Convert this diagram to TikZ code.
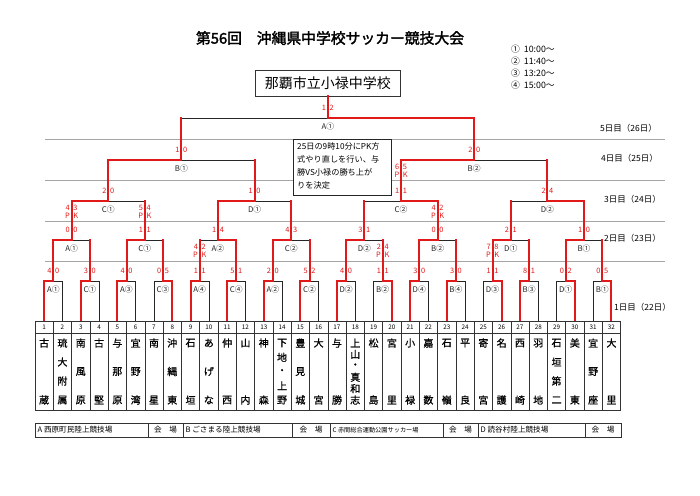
\documentclass[tikz,border=0pt]{standalone}
\usepackage{fontspec}
\setmainfont{Noto Sans CJK JP}
\newfontfamily\titlefont[FakeBold=2]{Noto Sans CJK JP}
\newfontfamily\namefont[FakeBold=0.8]{Noto Sans CJK JP}
\pgfdeclarelayer{back}
\pgfdeclarelayer{bg}
\pgfsetlayers{back,bg,main}
\definecolor{wred}{RGB}{225,25,25}
\definecolor{gline}{RGB}{165,165,165}
\tikzset{
  thinbox/.style={draw=black!85, line width=0.6pt},
  winline/.style={draw=wred, line width=2pt, line cap=rect},
  lab/.style={font=\fontsize{7.8}{8}\selectfont, inner sep=0pt, text=black!85},
  sc/.style={font=\fontsize{7.4}{8}\selectfont, inner sep=0.3pt, text=wred},
  nm/.style={font=\namefont\fontsize{10}{11}\selectfont, inner sep=0pt},
  num/.style={font=\fontsize{6.3}{7}\selectfont, inner sep=0pt},
  day/.style={font=\fontsize{8.5}{9}\selectfont, inner sep=0pt, anchor=west},
  dayline/.style={draw=gline, line width=0.6pt},
  gridline/.style={draw=black!80, line width=0.6pt},
  vt/.style={font=\fontsize{7.6}{8}\selectfont, inner sep=0pt},
  tm/.style={font=\fontsize{8.8}{9}\selectfont, inner sep=0pt, anchor=west},
}
% n, m, winner(0 left/1 right), label, scoreL, scoreR, ychild, ytop, yparent
\newcommand\bmatch[9]{%
  \pgfmathsetmacro\bw{18.3*2^(#1)}%
  \pgfmathsetmacro\bxc{35+\bw*(#2-0.5)}%
  \pgfmathsetmacro\bxl{\bxc-\bw/4}%
  \pgfmathsetmacro\bxr{\bxc+\bw/4}%
  \pgfmathsetmacro\bxw{#3==0 ? \bxl : \bxr}%
  \begin{pgfonlayer}{bg}
    \draw[thinbox] (\bxl,#7) -- (\bxl,#8) -- (\bxr,#8) -- (\bxr,#7);
  \end{pgfonlayer}
  \draw[winline] (\bxw,#7) -- (\bxw,#8) -- (\bxc,#8) -- (\bxc,#9);
  \node[lab] (lb#1-#2) at (\bxc,#8+8.5) {#4};
  \node[sc,anchor=east] (sl#1-#2) at (\bxc-1.3,#8-10) {#5};
  \node[sc,anchor=west] (sr#1-#2) at (\bxc+1.3,#8-10) {#6};
}
% n, m, a, b, yparent
\newcommand\pkmark[5]{%
  \pgfmathsetmacro\bxc{35+18.3*2^(#1)*(#2-0.5)}%
  \node[sc,anchor=east] (pka#1-#2) at (\bxc-1.3,#5+7) {#3};
  \node[sc,anchor=west] (pkb#1-#2) at (\bxc+1.3,#5+7) {#4};
  \node[sc,anchor=east] (pkp#1-#2) at (\bxc-1.3,#5+15) {P};
  \node[sc,anchor=west] (pkk#1-#2) at (\bxc+1.3,#5+15) {K};
}
% column, count, chars
\newcommand\tname[3]{%
  \pgfmathsetmacro\bxt{35+18.3*(#1-0.5)}%
  \foreach \ch [count=\ck] in {#3} {
    \pgfmathsetmacro\byt{343+(\ck-1)*57/(#2-1)}
    \node[nm] (n#1-\ck) at (\bxt,\byt) {\ch};
  }
}
\begin{document}
\begin{tikzpicture}[x=1pt,y=-1pt]
\begin{pgfonlayer}{back}
  \fill[white] (0,0) rectangle (700,495);
  \useasboundingbox (0,0) rectangle (700,495);
  \foreach \yy in {139,180,221,261} \draw[dayline] (45,\yy) -- (665,\yy);
\end{pgfonlayer}

% title and times
\node[inner sep=0pt, font=\titlefont\fontsize{14.8}{16}\selectfont] (title) at (330,38) {第56回　沖縄県中学校サッカー競技大会};
\node[tm] (t1) at (511,49) {①\ \ 10:00～};
\node[tm] (t2) at (511,61) {②\ \ 11:40～};
\node[tm] (t3) at (511,73) {③\ \ 13:20～};
\node[tm] (t4) at (511,85) {④\ \ 15:00～};

% champion
\node[draw=black!80, line width=0.7pt, fill=white, minimum width=145pt, minimum height=26pt, inner sep=0pt, font=\fontsize{14}{15}\selectfont] (champ) at (327.8,83) {那覇市立小禄中学校};

% day labels
\node[day] (d5) at (600,128) {5日目（26日）};
\node[day] (d4) at (601,158) {4日目（25日）};
\node[day] (d3) at (604,199) {3日目（24日）};
\node[day] (d2) at (604,238) {2日目（23日）};
\node[day] (d1) at (614,307) {1日目（22日）};

% note
\node[draw=black!85, line width=0.6pt, fill=white, minimum width=98pt, minimum height=56pt, inner sep=0pt] (note) at (342,167) {};
\node[anchor=north west, align=left, inner sep=0pt, font=\fontsize{8.2}{13}\selectfont] (notetext) at (297,142) {25日の9時10分にPK方\\式やり直しを行い、与\\勝VS小禄の勝ち上が\\りを決定};

% round 1
\bmatch{1}{1}{0}{A①}{4}{0}{321}{281}{240}
\bmatch{1}{2}{0}{C①}{3}{0}{321}{281}{240}
\bmatch{1}{3}{0}{A③}{4}{0}{321}{281}{240}
\bmatch{1}{4}{1}{C③}{0}{5}{321}{281}{240}
\bmatch{1}{5}{0}{A④}{1}{1}{321}{281}{240}
\bmatch{1}{6}{0}{C④}{5}{1}{321}{281}{240}
\bmatch{1}{7}{0}{A②}{2}{0}{321}{281}{240}
\bmatch{1}{8}{0}{C②}{5}{2}{321}{281}{240}
\bmatch{1}{9}{0}{D②}{4}{0}{321}{281}{240}
\bmatch{1}{10}{1}{B②}{1}{1}{321}{281}{240}
\bmatch{1}{11}{0}{D④}{3}{0}{321}{281}{240}
\bmatch{1}{12}{0}{B④}{3}{0}{321}{281}{240}
\bmatch{1}{13}{1}{D③}{1}{1}{321}{281}{240}
\bmatch{1}{14}{0}{B③}{8}{1}{321}{281}{240}
\bmatch{1}{15}{1}{D①}{0}{2}{321}{281}{240}
\bmatch{1}{16}{1}{B①}{0}{5}{321}{281}{240}
\pkmark{1}{5}{4}{2}{240}
\pkmark{1}{10}{2}{4}{240}
\pkmark{1}{13}{7}{8}{240}

% round 2
\bmatch{2}{1}{0}{A①}{0}{0}{281}{240}{201}
\bmatch{2}{2}{0}{C①}{1}{1}{281}{240}{201}
\bmatch{2}{3}{1}{A②}{1}{4}{281}{240}{201}
\bmatch{2}{4}{0}{C②}{4}{3}{281}{240}{201}
\bmatch{2}{5}{0}{D②}{3}{1}{281}{240}{201}
\bmatch{2}{6}{0}{B②}{0}{0}{281}{240}{201}
\bmatch{2}{7}{0}{D①}{2}{1}{281}{240}{201}
\bmatch{2}{8}{0}{B①}{1}{0}{281}{240}{201}
\pkmark{2}{1}{4}{3}{201}
\pkmark{2}{2}{5}{4}{201}
\pkmark{2}{6}{4}{2}{201}

% round 3
\bmatch{3}{1}{0}{C①}{2}{0}{240}{201}{160}
\bmatch{3}{2}{0}{D①}{1}{0}{240}{201}{160}
\bmatch{3}{3}{1}{C②}{1}{1}{240}{201}{160}
\bmatch{3}{4}{1}{D②}{2}{4}{240}{201}{160}
\pkmark{3}{3}{6}{5}{160}

% round 4
\bmatch{4}{1}{0}{B①}{1}{0}{201}{160}{118}
\bmatch{4}{2}{0}{B②}{2}{0}{201}{160}{118}

% final
\bmatch{5}{1}{1}{A①}{1}{2}{160}{118}{96}

% team grid
\foreach \i in {1,...,32} {
  \pgfmathsetmacro\gx{35+18.3*(\i-1)}
  \draw[gridline] (\gx,321) rectangle ++(18.3,12);
  \draw[gridline] (\gx,333) rectangle ++(18.3,77);
  \node[num] (c\i) at (\gx+9.15,327.3) {\i};
}
\tname{1}{2}{古,蔵}
\tname{2}{4}{琉,大,附,属}
\tname{3}{3}{南,風,原}
\tname{4}{2}{古,堅}
\tname{5}{3}{与,那,原}
\tname{6}{3}{宜,野,湾}
\tname{7}{2}{南,星}
\tname{8}{3}{沖,縄,東}
\tname{9}{2}{石,垣}
\tname{10}{3}{あ,げ,な}
\tname{11}{2}{仲,西}
\tname{12}{2}{山,内}
\tname{13}{2}{神,森}
\tname{14}{5}{下,地,・,上,野}
\tname{15}{3}{豊,見,城}
\tname{16}{2}{大,宮}
\tname{17}{2}{与,勝}
\tname{18}{6}{上,山,・,真,和,志}
\tname{19}{2}{松,島}
\tname{20}{2}{宮,里}
\tname{21}{2}{小,禄}
\tname{22}{2}{嘉,数}
\tname{23}{2}{石,嶺}
\tname{24}{2}{平,良}
\tname{25}{2}{寄,宮}
\tname{26}{2}{名,護}
\tname{27}{2}{西,崎}
\tname{28}{2}{羽,地}
\tname{29}{4}{石,垣,第,二}
\tname{30}{2}{美,東}
\tname{31}{3}{宜,野,座}
\tname{32}{2}{大,里}

% venue table
\draw[gridline, line width=0.8pt] (35,423) rectangle (621,437);
\foreach \vx in {148,183,292,330,443,478,585} \draw[gridline, line width=0.8pt] (\vx,423) -- (\vx,437);
\node[vt, anchor=west] (vA) at (37.5,430) {A\ 西原町民陸上競技場};
\node[vt] (vA2) at (165.5,430) {会　場};
\node[vt, anchor=west] (vB) at (185.5,430) {B\ ごさまる陸上競技場};
\node[vt] (vB2) at (311,430) {会　場};
\node[vt, anchor=west, font=\fontsize{6.2}{7}\selectfont] (vC) at (332.5,430) {C\ 赤間総合運動公園サッカー場};
\node[vt] (vC2) at (460.5,430) {会　場};
\node[vt, anchor=west] (vD) at (480.5,430) {D\ 読谷村陸上競技場};
\node[vt] (vD2) at (603,430) {会　場};
\end{tikzpicture}
\end{document}
